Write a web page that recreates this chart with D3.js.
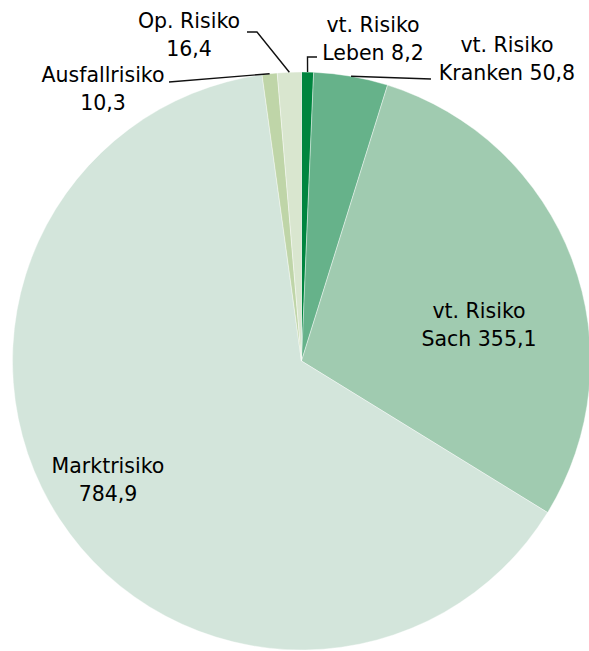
<!DOCTYPE html>
<html>
<head>
<meta charset="utf-8">
<script src="https://cdn.jsdelivr.net/npm/d3@7"></script>
<style>
  body { margin: 0; background: #fff; }
  text { font-family: "DejaVu Sans", sans-serif; font-size: 20.5px; fill: #000; }
</style>
</head>
<body>
<script>
// risk categories, clockwise from 12 o'clock
var categories = ["vt. Risiko Leben", "vt. Risiko Kranken", "vt. Risiko Sach", "Marktrisiko", "Ausfallrisiko", "Op. Risiko"];
var values = [8.2, 50.8, 355.1, 784.9, 10.3, 16.4];
var labelLines = [
  ["vt. Risiko", "Leben 8,2"],
  ["vt. Risiko", "Kranken 50,8"],
  ["vt. Risiko", "Sach 355,1"],
  ["Marktrisiko", "784,9"],
  ["Ausfallrisiko", "10,3"],
  ["Op. Risiko", "16,4"]
];
var colors = ["#00853f", "#66b28a", "#a0cbb0", "#d3e5db", "#bfd5a8", "#d9e6cf"];

var width = 589, height = 651;
var cx = 301.5, cy = 361, radius = 289;

var svg = d3.select("body").append("svg")
    .attr("width", width)
    .attr("height", height);

var g = svg.append("g").attr("transform", "translate(" + cx + "," + cy + ")");

var pie = d3.pie().sort(null).value(function(d){ return d; });
var arc = d3.arc().innerRadius(0).outerRadius(radius);
var arcs = pie(values);

g.selectAll("path.slice")
  .data(arcs)
  .enter().append("path")
    .attr("class", "slice")
    .attr("d", arc)
    .attr("fill", function(d, i){ return colors[i]; })
    .attr("stroke", "#fff")
    .attr("stroke-width", 0.4);

// where each label sits (absolute page coords): text centre x, first baseline,
// and the bend points of the leader line (empty = label inside the slice)
var layout = [
  { x: 373, y: 32, bend: [[307.5, 57], [317, 57]] },
  { x: 507, y: 52, bend: [[431, 79]] },
  { x: 479, y: 318, bend: [] },
  { x: 108, y: 473, bend: [] },
  { x: 103, y: 82, bend: [[169, 82]] },
  { x: 189, y: 28, bend: [[257, 32], [247, 32]] }
];

var lineGap = 27.5;

arcs.forEach(function(d, i){
  var L = layout[i];
  if (L.bend.length) {
    var mid = (d.startAngle + d.endAngle) / 2;
    var start = [cx + radius * Math.sin(mid), cy - radius * Math.cos(mid)];
    svg.append("path")
      .attr("d", d3.line()([start].concat(L.bend)))
      .attr("fill", "none")
      .attr("stroke", "#111")
      .attr("stroke-width", 1.4);
  }
  var t = svg.append("text")
    .attr("text-anchor", "middle")
    .attr("x", L.x)
    .attr("y", L.y);
  labelLines[i].forEach(function(s, j){
    t.append("tspan")
      .attr("x", L.x)
      .attr("y", L.y + j * lineGap)
      .text(s);
  });
});
</script>
</body>
</html>
